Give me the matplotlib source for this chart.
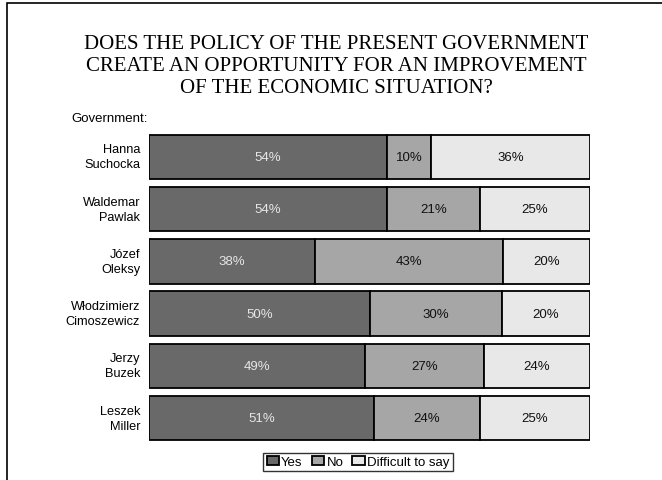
import matplotlib
matplotlib.use("Agg")
import matplotlib.pyplot as plt
from matplotlib.patches import Rectangle
import numpy as np

governments = ["Hanna\nSuchocka", "Waldemar\nPawlak", "Józef\nOleksy",
               "Włodzimierz\nCimoszewicz", "Jerzy\nBuzek", "Leszek\nMiller"]
yes = [54, 54, 38, 50, 49, 51]
no = [10, 21, 43, 30, 27, 24]
difficult = [36, 25, 20, 20, 24, 25]
series_names = ["Yes", "No", "Difficult to say"]
title_lines = ["DOES THE POLICY OF THE PRESENT GOVERNMENT",
               "CREATE AN OPPORTUNITY FOR AN IMPROVEMENT",
               "OF THE ECONOMIC SITUATION?"]
colors = ["#696969", "#a6a6a6", "#e8e8e8"]
text_colors = ["#e6e6e6", "#111111", "#111111"]

W, H = 662, 481
fig = plt.figure(figsize=(W / 100, H / 100), dpi=100)

# outer frame
fig.patches.append(Rectangle((7 / W, -0.1), 1.2, 1 - 4 / H + 0.1,
                             transform=fig.transFigure, fill=False,
                             edgecolor="black", linewidth=1.2))

for j, line in enumerate(title_lines):
    fig.text(336 / W, 1 - (49 + 22 * j) / H, line, ha="center",
             va="baseline", family="Liberation Serif", fontsize=15)

fig.text(71 / W, 1 - 119 / H, "Government:", ha="left", va="center",
         family="Liberation Sans", fontsize=9.5)

ax = fig.add_axes([149 / W, 1 - 449 / H, (590 - 149) / W, (449 - 128) / H])
ax.set_xlim(0, 100)
n = len(governments)
ax.set_ylim(n - 0.5 + 0.07, -0.5 - 0.07)
ax.axis("off")

data = np.array([yes, no, difficult], dtype=float)
totals = data.sum(axis=0)
shares = data / totals * 100
left = np.zeros(n)
for k in range(3):
    ax.barh(range(n), shares[k], left=left, height=0.85, color=colors[k],
            edgecolor="black", linewidth=1.3, label=series_names[k])
    for i in range(n):
        ax.text(left[i] + shares[k][i] / 2, i, f"{int(data[k][i])}%",
                ha="center", va="center", color=text_colors[k],
                family="Liberation Sans", fontsize=9.5)
    left += shares[k]

for i, name in enumerate(governments):
    ax.text(-2.0, i, name, ha="right", va="center", family="Liberation Sans",
            fontsize=9.2, linespacing=1.35)

leg = fig.legend(loc="center", bbox_to_anchor=(358 / W, 1 - 463 / H), ncol=3,
                 prop={"family": "Liberation Sans", "size": 9.5},
                 frameon=True, fancybox=False, edgecolor="black",
                 handlelength=0.95, handleheight=0.6, handletextpad=0.15,
                 columnspacing=0.7, borderpad=0.25, borderaxespad=0)
leg.get_frame().set_linewidth(1.0)

fig.savefig("out.png", dpi=100)
